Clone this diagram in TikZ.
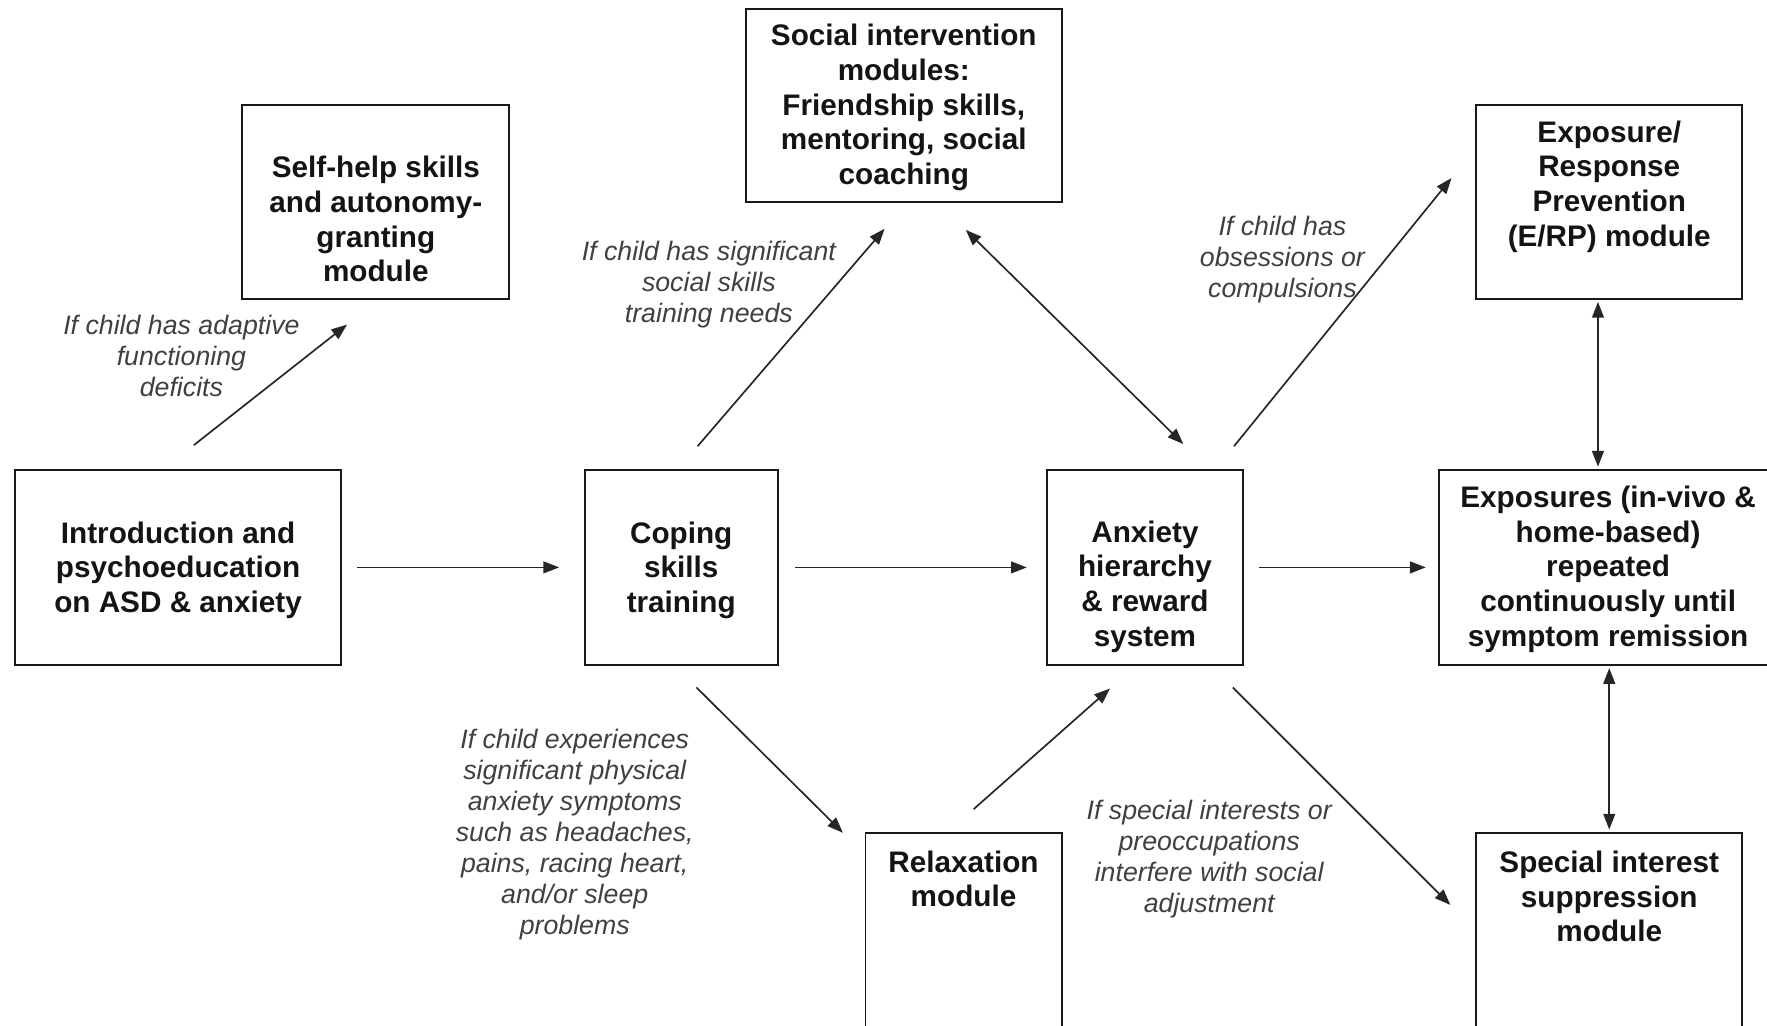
\documentclass[tikz,border=0pt]{standalone}
\usepackage{fontspec}
\setmainfont{Liberation Sans}
\usetikzlibrary{arrows.meta}
\begin{document}
\begin{tikzpicture}[x=0.02cm,y=-0.02cm,
  box/.style={draw=black!90, line width=1pt, inner sep=0pt},
  boxtext/.style={align=center, inner sep=0pt, text=black!92,
    font=\fontsize{15}{17.5}\selectfont\bfseries},
  cond/.style={align=center, inner sep=0pt, text=black!75,
    font=\fontsize{13.5}{15.6}\selectfont\itshape},
  arr/.style={draw=black!85, line width=0.85pt, -{Triangle[length=0.28cm,width=0.21cm]}},
  dblarr/.style={draw=black!85, line width=0.85pt,
    {Triangle[length=0.28cm,width=0.21cm]}-{Triangle[length=0.28cm,width=0.21cm]}}
]
\useasboundingbox (0,0) rectangle (1568,910);
\clip (0,0) rectangle (1568,910);

% ---- boxes ----
\node[box, minimum width=4.74cm, minimum height=3.44cm] (selfhelp) at (333.5,179) {};
\node[box, minimum width=5.60cm, minimum height=3.42cm] (social)   at (802,93.5) {};
\node[box, minimum width=4.72cm, minimum height=3.44cm] (erp)      at (1428,179) {};
\node[box, minimum width=5.80cm, minimum height=3.46cm] (intro)    at (158,503.5) {};
\node[box, minimum width=3.42cm, minimum height=3.46cm] (coping)   at (604.5,503.5) {};
\node[box, minimum width=3.48cm, minimum height=3.46cm] (anxiety)  at (1016,503.5) {};
\node[box, minimum width=5.90cm, minimum height=3.46cm] (expo)     at (1424.5,503.5) {};
\node[box, minimum width=3.48cm, minimum height=3.60cm] (relax)    at (855,829) {};
\node[box, minimum width=4.72cm, minimum height=3.60cm] (special)  at (1428,829) {};

% ---- box texts ----
\node[boxtext] (selfhelp-t) at (333.5,194.5) {Self-help skills\\and autonomy-\\granting\\module};
\node[boxtext] (social-t)   at (802,95.5)    {Social intervention\\modules:\\Friendship skills,\\mentoring, social\\coaching};
\node[boxtext] (erp-t)      at (1428,165.5)  {Exposure/\\Response\\Prevention\\(E/RP) module};
\node[boxtext] (intro-t)    at (158,506)     {Introduction and\\psychoeducation\\on ASD \& anxiety};
\node[boxtext] (coping-t)   at (604.5,506)   {Coping\\skills\\training};
\node[boxtext] (anxiety-t)  at (1016,520.5)  {Anxiety\\hierarchy\\\& reward\\system};
\node[boxtext] (expo-t)     at (1427,505)    {Exposures (in-vivo \&\\home-based)\\repeated\\continuously until\\symptom remission};
\node[boxtext] (relax-t)    at (855,780)     {Relaxation\\module};
\node[boxtext] (special-t)  at (1428,795.5)  {Special interest\\suppression\\module};

% ---- condition labels ----
\node[cond] (c-adapt)   at (161,316)   {If child has adaptive\\functioning\\deficits};
\node[cond] (c-social)  at (629,252.5) {If child has significant\\social skills\\training needs};
\node[cond] (c-obs)     at (1138,230.5){If child has\\obsessions or\\compulsions};
\node[cond] (c-phys)    at (510,740.5) {If child experiences\\significant physical\\anxiety symptoms\\such as headaches,\\pains, racing heart,\\and/or sleep\\problems};
\node[cond] (c-special) at (1073,762.5){If special interests or\\preoccupations\\interfere with social\\adjustment};

% ---- free ends of the diagonal connectors ----
\coordinate (a1) at (172,395);  \coordinate (b1) at (308,288);
\coordinate (a2) at (619,396);  \coordinate (b2) at (785,203);
\coordinate (a3) at (857,204);  \coordinate (b3) at (1050,394);
\coordinate (a4) at (1095,396); \coordinate (b4) at (1288,158);
\coordinate (a5) at (618,610);  \coordinate (b5) at (748,739);
\coordinate (a6) at (864,718);  \coordinate (b6) at (985,611);
\coordinate (a7) at (1094,610); \coordinate (b7) at (1287,803);
\coordinate (v1) at (1418,0);   \coordinate (v2) at (1428,0);

% ---- horizontal flow ----
\draw[arr, shorten <=0.26cm, shorten >=0.44cm] (intro.east) -- (coping.west);
\draw[arr, shorten <=0.30cm, shorten >=0.34cm] (coping.east) -- (anxiety.west);
\draw[arr, shorten <=0.26cm, shorten >=0.22cm] (anxiety.east) -- (expo.west);

% ---- diagonal branches ----
\draw[arr] (a1) -- (b1);
\draw[arr] (a2) -- (b2);
\draw[dblarr] (a3) -- (b3);
\draw[arr] (a4) -- (b4);
\draw[arr] (a5) -- (b5);
\draw[arr] (a6) -- (b6);
\draw[arr] (a7) -- (b7);

% ---- vertical links on the right ----
\draw[dblarr, shorten <=0.04cm, shorten >=0.04cm] (erp.south -| v1) -- (expo.north -| v1);
\draw[dblarr, shorten <=0.04cm, shorten >=0.04cm] (expo.south -| v2) -- (special.north -| v2);
\end{tikzpicture}
\end{document}
